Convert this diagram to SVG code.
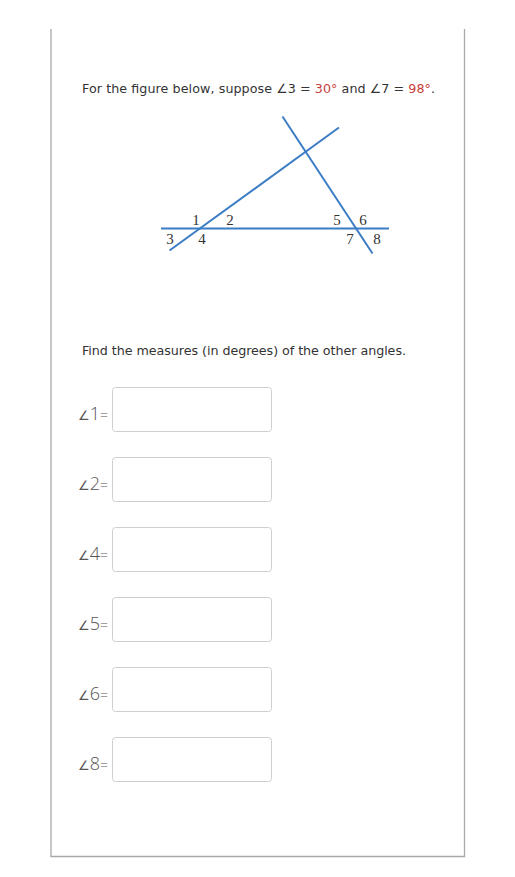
<svg xmlns="http://www.w3.org/2000/svg" width="515" height="877" viewBox="0 0 515 877">
<style>
.frame{fill:none;stroke:#a8a8a8;stroke-width:1.3}
.q{font-family:"DejaVu Sans",Verdana,sans-serif;font-size:12.7px;fill:#333}
.red{fill:#c8403a}
.ln{stroke:#3b7dc4;stroke-width:2;fill:none;stroke-linecap:butt}
.lbl{font-family:"Liberation Serif","Times New Roman",serif;font-size:15px;fill:#333;text-anchor:middle}
.box{fill:#fff;stroke:#cfcfcf;stroke-width:1}
.ang{font-family:"Open Sans","DejaVu Sans",sans-serif;font-weight:300;fill:#555}
</style>
<rect width="515" height="877" fill="#fff"/>
<path class="frame" d="M51,29 V856.5 H464.5 V29"/>
<text class="q" x="82" y="93" textLength="353" lengthAdjust="spacing">For the figure below, suppose ∠3 = <tspan class="red">30°</tspan> and ∠7 = <tspan class="red">98°</tspan>.</text>
<g id="figure">
<line class="ln" x1="161" y1="228.5" x2="389" y2="228.5"/>
<line class="ln" x1="169.5" y1="250.5" x2="339" y2="127.5"/>
<line class="ln" x1="282.5" y1="116.5" x2="372.5" y2="253.5"/>
<text class="lbl" x="196" y="225">1</text>
<text class="lbl" x="230" y="225">2</text>
<text class="lbl" x="170" y="244">3</text>
<text class="lbl" x="202" y="244">4</text>
<text class="lbl" x="337" y="225">5</text>
<text class="lbl" x="363" y="225">6</text>
<text class="lbl" x="350" y="244">7</text>
<text class="lbl" x="377" y="244">8</text>
</g>
<text class="q" x="82" y="355" textLength="324" lengthAdjust="spacing">Find the measures (in degrees) of the other angles.</text>
<g id="row1"><text class="ang" x="108" y="420" text-anchor="end"><tspan font-size="13">∠</tspan><tspan font-size="18">1</tspan><tspan font-size="14">=</tspan></text><rect class="box" x="112.5" y="387.5" width="159" height="44" rx="3"/></g>
<g id="row2"><text class="ang" x="108" y="490" text-anchor="end"><tspan font-size="13">∠</tspan><tspan font-size="18">2</tspan><tspan font-size="14">=</tspan></text><rect class="box" x="112.5" y="457.5" width="159" height="44" rx="3"/></g>
<g id="row4"><text class="ang" x="108" y="560" text-anchor="end"><tspan font-size="13">∠</tspan><tspan font-size="18">4</tspan><tspan font-size="14">=</tspan></text><rect class="box" x="112.5" y="527.5" width="159" height="44" rx="3"/></g>
<g id="row5"><text class="ang" x="108" y="630" text-anchor="end"><tspan font-size="13">∠</tspan><tspan font-size="18">5</tspan><tspan font-size="14">=</tspan></text><rect class="box" x="112.5" y="597.5" width="159" height="44" rx="3"/></g>
<g id="row6"><text class="ang" x="108" y="700" text-anchor="end"><tspan font-size="13">∠</tspan><tspan font-size="18">6</tspan><tspan font-size="14">=</tspan></text><rect class="box" x="112.5" y="667.5" width="159" height="44" rx="3"/></g>
<g id="row8"><text class="ang" x="108" y="770" text-anchor="end"><tspan font-size="13">∠</tspan><tspan font-size="18">8</tspan><tspan font-size="14">=</tspan></text><rect class="box" x="112.5" y="737.5" width="159" height="44" rx="3"/></g>
</svg>
